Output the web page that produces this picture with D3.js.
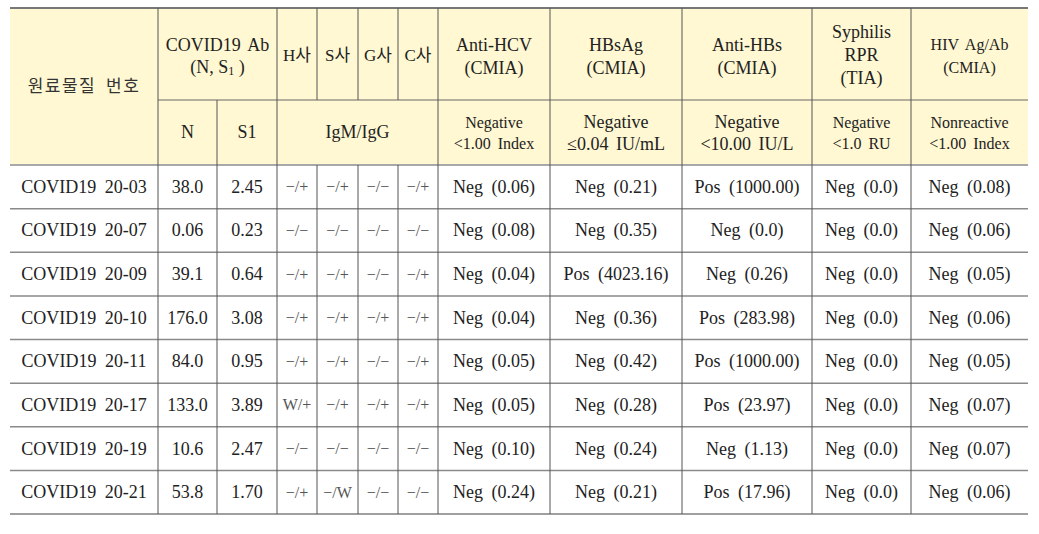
<!DOCTYPE html>
<html>
<head>
<meta charset="utf-8">
<script src="https://cdn.jsdelivr.net/npm/d3@7"></script>
<style>
  body { margin: 0; background: #fff; }
  svg text { font-family: "Liberation Serif", "DejaVu Serif", "Noto Sans CJK KR", serif; fill: #222; }
</style>
</head>
<body>
<div id="viz"></div>
<script>
// table content
const sampleIds = ['COVID19 20-03', 'COVID19 20-07', 'COVID19 20-09', 'COVID19 20-10',
  'COVID19 20-11', 'COVID19 20-17', 'COVID19 20-19', 'COVID19 20-21'];
const nValues = ['38.0', '0.06', '39.1', '176.0', '84.0', '133.0', '10.6', '53.8'];
const s1Values = ['2.45', '0.23', '0.64', '3.08', '0.95', '3.89', '2.47', '1.70'];
const hCo = ['−/+', '−/−', '−/+', '−/+', '−/+', 'W/+', '−/−', '−/+'];
const sCo = ['−/+', '−/−', '−/+', '−/+', '−/+', '−/+', '−/−', '−/W'];
const gCo = ['−/−', '−/−', '−/−', '−/+', '−/−', '−/+', '−/−', '−/−'];
const cCo = ['−/+', '−/−', '−/+', '−/+', '−/+', '−/+', '−/−', '−/−'];
const antiHcv = ['Neg (0.06)', 'Neg (0.08)', 'Neg (0.04)', 'Neg (0.04)', 'Neg (0.05)', 'Neg (0.05)', 'Neg (0.10)', 'Neg (0.24)'];
const hbsAg = ['Neg (0.21)', 'Neg (0.35)', 'Pos (4023.16)', 'Neg (0.36)', 'Neg (0.42)', 'Neg (0.28)', 'Neg (0.24)', 'Neg (0.21)'];
const antiHbs = ['Pos (1000.00)', 'Neg (0.0)', 'Neg (0.26)', 'Pos (283.98)', 'Pos (1000.00)', 'Pos (23.97)', 'Neg (1.13)', 'Pos (17.96)'];
const syphilis = ['Neg (0.0)', 'Neg (0.0)', 'Neg (0.0)', 'Neg (0.0)', 'Neg (0.0)', 'Neg (0.0)', 'Neg (0.0)', 'Neg (0.0)'];
const hivAgAb = ['Neg (0.08)', 'Neg (0.06)', 'Neg (0.05)', 'Neg (0.06)', 'Neg (0.05)', 'Neg (0.07)', 'Neg (0.07)', 'Neg (0.06)'];

// header labels
const testHeads = [['Anti-HCV', '(CMIA)'], ['HBsAg', '(CMIA)'], ['Anti-HBs', '(CMIA)'],
  ['Syphilis', 'RPR', '(TIA)'], ['HIV Ag/Ab', '(CMIA)']];
const testCriteria = [['Negative', '<1.00 Index'], ['Negative', '≤0.04 IU/mL'], ['Negative', '<10.00 IU/L'],
  ['Negative', '<1.0 RU'], ['Nonreactive', '<1.00 Index']];
const companyHeads = ['H사', 'S사', 'G사', 'C사'];

const columns = [sampleIds, nValues, s1Values, hCo, sCo, gCo, cCo, antiHcv, hbsAg, antiHbs, syphilis, hivAgAb];

// layout
const width = 1039, height = 534;
const colWidths = [148, 59, 60, 40, 41, 40, 40, 112, 132, 130, 99, 117];
const tLeft = 10, tTop = 8, headSplit = 100, headBottom = 165, tBottom = 514;
const headFill = '#fff8d2';

const colEdges = [tLeft, ...d3.cumsum(colWidths).map(d => d + tLeft)];
const colMid = i => (colEdges[i] + colEdges[i + 1]) / 2;
const tRight = colEdges[colEdges.length - 1];

const y = d3.scaleBand()
  .domain(d3.range(sampleIds.length))
  .range([headBottom, tBottom]);

const svg = d3.select('#viz').append('svg')
  .attr('width', width)
  .attr('height', height);

// header background
svg.append('rect')
  .attr('x', tLeft).attr('y', tTop)
  .attr('width', tRight - tLeft).attr('height', headBottom - tTop)
  .attr('fill', headFill);

const lines = svg.append('g').attr('class', 'lines');

function hline(x1, x2, yy, col, w) {
  lines.append('line')
    .attr('x1', x1).attr('x2', x2).attr('y1', yy).attr('y2', yy)
    .attr('stroke', col).attr('stroke-width', w);
}
function vline(xx, y1, y2) {
  lines.append('line')
    .attr('x1', xx).attr('x2', xx).attr('y1', y1).attr('y2', y2)
    .attr('stroke', '#555').attr('stroke-width', 1);
}

// horizontal rules
hline(tLeft, tRight, tTop, '#777', 2);
hline(colEdges[1], tRight, headSplit, '#666', 1);
hline(tLeft, tRight, headBottom, '#a8a8a8', 2);
d3.range(1, sampleIds.length).forEach(i => hline(tLeft, tRight, y(i), '#8a8a8a', 1.5));
hline(tLeft, tRight, tBottom, '#a0a0a0', 2);

// vertical rules
for (let i = 1; i < colEdges.length - 1; i++) {
  let y1 = tTop;
  // N | S1 split only below the COVID19 Ab heading
  if (i === 2) y1 = headSplit;
  if (i >= 4 && i <= 6) {
    // company columns merge into IgM/IgG in the second header row
    vline(colEdges[i], tTop, headSplit);
    vline(colEdges[i], headBottom, tBottom);
  } else {
    vline(colEdges[i], y1, tBottom);
  }
}

const txt = svg.append('g').attr('class', 'texts');

function multiLine(cx, cy, rows, size, gap) {
  const t = txt.append('text')
    .attr('text-anchor', 'middle')
    .attr('font-size', size);
  const off = (rows.length - 1) * gap / 2;
  rows.forEach((r, k) => {
    t.append('tspan')
      .attr('x', cx)
      .attr('y', cy - off + k * gap)
      .attr('dominant-baseline', 'central')
      .text(r);
  });
  return t;
}

// header texts
multiLine(colMid(0), (tTop + headBottom) / 2, ['원료물질 번호'], 17, 0)
  .style('letter-spacing', '1.5px')
  .style('word-spacing', '4px')
  .style('fill', '#333');

const covidCx = (colEdges[1] + colEdges[3]) / 2;
multiLine(covidCx, 45, ['COVID19 Ab'], 18, 0).style('word-spacing', '3px');
const sub = txt.append('text')
  .attr('x', covidCx).attr('y', 67)
  .attr('text-anchor', 'middle')
  .attr('dominant-baseline', 'central')
  .attr('font-size', 18);
sub.append('tspan').text('(N, S');
sub.append('tspan').attr('font-size', 12).attr('dy', 4).text('1');
sub.append('tspan').attr('dy', -4).text('  )');

multiLine(colMid(1), 132, ['N'], 18, 0);
multiLine(colMid(2), 132, ['S1'], 18, 0);

companyHeads.forEach((h, k) => multiLine(colMid(3 + k), 55, [h], 17, 0));
multiLine((colEdges[3] + colEdges[7]) / 2, 132, ['IgM/IgG'], 18, 0);

testHeads.forEach((h, k) => {
  const small = k === 4;
  multiLine(colMid(7 + k), h.length === 3 ? 55 : 56, h, small ? 16 : 18, 23)
    .style('word-spacing', '3px');
});
testCriteria.forEach((c, k) => {
  const big = k === 1 || k === 2;
  multiLine(colMid(7 + k), 133, c, big ? 18 : 16, big ? 22 : 21)
    .style('word-spacing', '3px');
});

// body cells
columns.forEach((col, ci) => {
  const isCo = ci >= 3 && ci <= 6;
  txt.append('g')
    .selectAll('text')
    .data(col)
    .join('text')
    .attr('x', colMid(ci))
    .attr('y', (d, i) => y(i) + y.bandwidth() / 2)
    .attr('text-anchor', 'middle')
    .attr('dominant-baseline', 'central')
    .attr('font-size', isCo ? 16 : 18)
    .style('fill', isCo ? '#555' : '#222')
    .style('word-spacing', ci === 0 || ci >= 7 ? '4px' : null)
    .text(d => d);
});
</script>
</body>
</html>
